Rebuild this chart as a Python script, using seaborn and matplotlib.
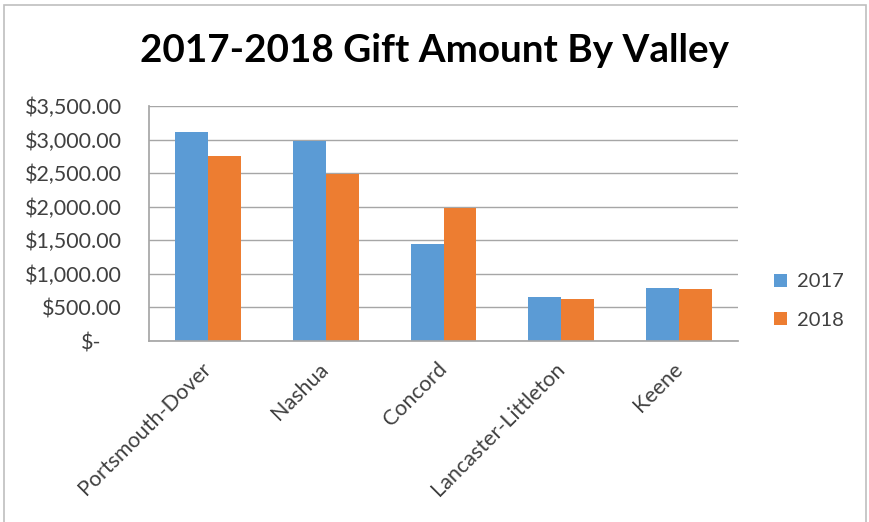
import matplotlib
matplotlib.use("Agg")
import matplotlib.pyplot as plt
import seaborn as sns
import pandas as pd
from matplotlib.patches import Rectangle
from matplotlib.ticker import FuncFormatter
from matplotlib.transforms import ScaledTranslation

valleys = ["Portsmouth-Dover", "Nashua", "Concord", "Lancaster-Littleton", "Keene"]
gift_2017 = [3110, 2976, 1446, 657, 796]
gift_2018 = [2749, 2483, 1984, 627, 781]
years = ["2017", "2018"]
y_ticks = [0, 500, 1000, 1500, 2000, 2500, 3000, 3500]

df = pd.DataFrame({
    "Valley": valleys * 2,
    "Year": [years[0]] * len(valleys) + [years[1]] * len(valleys),
    "Amount": gift_2017 + gift_2018,
})

sns.set_theme(style="white")
plt.rcParams["font.family"] = ["Lato", "DejaVu Sans"]

fig = plt.figure(figsize=(8.69, 5.22), dpi=100)
ax = fig.add_axes([149/869, 1 - 341/522, (738 - 149)/869, (341 - 106)/522])

sns.barplot(data=df, x="Valley", y="Amount", hue="Year", order=valleys,
            hue_order=years, palette=["#5B9BD5", "#ED7D31"], width=0.56,
            saturation=1, ax=ax, errorbar=None, legend=True, linewidth=0)

ax.set_ylim(0, 3500)
ax.set_yticks(y_ticks)
ax.yaxis.set_major_formatter(FuncFormatter(lambda v, p: "$-" if v == 0 else f"${v:,.2f}"))
ax.set_xlim(-0.5, len(valleys) - 0.5)
ax.grid(axis="y", color="#A6A6A6", linewidth=1.0)
ax.set_axisbelow(True)
for s in ["top", "right"]:
    ax.spines[s].set_visible(False)
ax.spines["left"].set_color("#A6A6A6")
ax.spines["bottom"].set_color("#A6A6A6")
ax.set_xlabel("")
ax.set_ylabel("")
ax.tick_params(axis="y", labelsize=15.5, colors="#404040", length=0, pad=19.5)
ax.tick_params(axis="x", labelsize=15.5, colors="#404040", length=0, pad=18)

ax.set_xticks(range(len(valleys)))
ax.set_xticklabels(valleys, rotation=45, ha="right", va="center",
                   rotation_mode="anchor")
zero_shift = ScaledTranslation(-20/100, 0, fig.dpi_scale_trans)
ylab0 = ax.yaxis.get_major_ticks()[0].label1
ylab0.set_transform(ylab0.get_transform() + zero_shift)

leg = ax.legend(loc="center left", bbox_to_anchor=(1.03, 0.17), frameon=False,
                fontsize=14.5, handlelength=0.65, handleheight=0.65,
                handletextpad=0.5, labelspacing=1.05)
for t in leg.get_texts():
    t.set_color("#404040")

fig.text(435/869, 1 - 50/522, "2017-2018 Gift Amount By Valley",
         ha="center", va="center", fontsize=27.8, fontweight="bold", color="black")

fig.patches.append(Rectangle((4/869, -0.02), 862/869, 1.02 - 5/522,
                             transform=fig.transFigure, fill=False,
                             edgecolor="#BFBFBF", linewidth=1.2))

fig.savefig("out.png", dpi=100)
